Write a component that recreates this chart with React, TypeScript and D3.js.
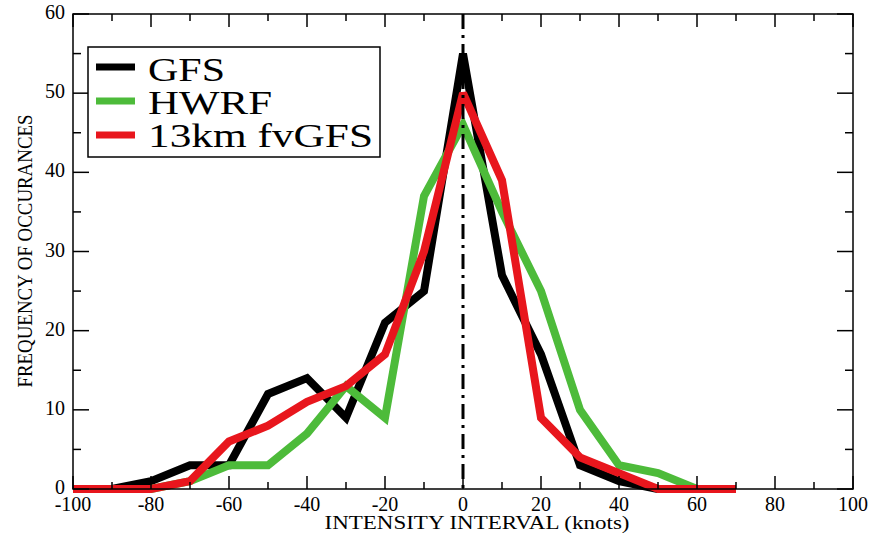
import React from "react";
import * as d3 from "d3";

const xValues = [-100, -90, -80, -70, -60, -50, -40, -30, -20, -10, 0, 10, 20, 30, 40, 50, 60, 70];
const gfs = [0, 0, 1, 3, 3, 12, 14, 9, 21, 25, 55, 27, 17, 3, 1, 0, null, null];
const hwrf = [0, 0, 0, 1, 3, 3, 7, 13, 9, 37, 46, 35, 25, 10, 3, 2, 0, null];
const fvgfs = [0, 0, 0, 1, 6, 8, 11, 13, 17, 30, 50, 39, 9, 4, 2, 0, 0, 0];

const seriesNames = ["GFS", "HWRF", "13km fvGFS"];
const seriesColors = ["#000000", "#4dbb3a", "#e8161d"];
const seriesData = [gfs, hwrf, fvgfs];

const xTicksMajor = [-100, -80, -60, -40, -20, 0, 20, 40, 60, 80, 100];
const xTicksMinor = [-90, -70, -50, -30, -10, 10, 30, 50, 70, 90];
const yTicksMajor = [0, 10, 20, 30, 40, 50, 60];
const yTicksMinor = [5, 15, 25, 35, 45, 55];

const W = 881, H = 533;
const L = 73, R = 853, T = 14, B = 489;
const FONT = "'Liberation Serif', 'Times New Roman', serif";

export default function App() {
  const x = d3.scaleLinear().domain([-100, 100]).range([L, R]);
  const y = d3.scaleLinear().domain([0, 60]).range([B, T]);
  const line = d3
    .line<number | null>()
    .defined((d) => d !== null)
    .x((_, i) => x(xValues[i]))
    .y((d) => y(d as number));

  return (
    <svg width={W} height={H} style={{ position: "absolute", left: 0, top: 0, background: "#fff" }}>
      <rect x={0} y={0} width={W} height={H} fill="#fff" />
      {seriesData.map((s, i) => (
        <path key={i} d={line(s) || ""} fill="none" stroke={seriesColors[i]} strokeWidth={8} strokeLinejoin="miter" strokeMiterlimit={3} />
      ))}
      <line x1={x(0)} x2={x(0)} y1={y(60)} y2={y(0)} stroke="#000" strokeWidth={3} strokeDasharray="15,6,3,6" />
      <rect x={L} y={T} width={R - L} height={B - T} fill="none" stroke="#000" strokeWidth={1.5} />
      {xTicksMajor.map((t) => (
        <g key={"xm" + t}>
          <line x1={x(t)} x2={x(t)} y1={B} y2={B - 13} stroke="#000" strokeWidth={1.5} />
          <line x1={x(t)} x2={x(t)} y1={T} y2={T + 13} stroke="#000" strokeWidth={1.5} />
          <text x={x(t)} y={511} textAnchor="middle" fontFamily={FONT} fontSize={20}>{t}</text>
        </g>
      ))}
      {xTicksMinor.map((t) => (
        <g key={"xn" + t}>
          <line x1={x(t)} x2={x(t)} y1={B} y2={B - 7} stroke="#000" strokeWidth={1.5} />
          <line x1={x(t)} x2={x(t)} y1={T} y2={T + 7} stroke="#000" strokeWidth={1.5} />
        </g>
      ))}
      {yTicksMajor.map((t) => (
        <g key={"ym" + t}>
          <line x1={L} x2={L + 16} y1={y(t)} y2={y(t)} stroke="#000" strokeWidth={1.5} />
          <line x1={R} x2={R - 16} y1={y(t)} y2={y(t)} stroke="#000" strokeWidth={1.5} />
          <text x={65} y={y(t) + 5} textAnchor="end" fontFamily={FONT} fontSize={20}>{t}</text>
        </g>
      ))}
      {yTicksMinor.map((t) => (
        <g key={"yn" + t}>
          <line x1={L} x2={L + 8} y1={y(t)} y2={y(t)} stroke="#000" strokeWidth={1.5} />
          <line x1={R} x2={R - 8} y1={y(t)} y2={y(t)} stroke="#000" strokeWidth={1.5} />
        </g>
      ))}
      <text x={477} y={529} textAnchor="middle" fontFamily={FONT} fontSize={18} textLength={305} lengthAdjust="spacingAndGlyphs">INTENSITY INTERVAL (knots)</text>
      <text transform={`translate(32,251) rotate(-90)`} textAnchor="middle" fontFamily={FONT} fontSize={20} textLength={273} lengthAdjust="spacingAndGlyphs">FREQUENCY OF OCCURANCES</text>
      <rect x={88} y={47} width={292} height={110} fill="#fff" stroke="#000" strokeWidth={1.5} />
      {seriesNames.map((n, i) => {
        const cy = [67, 101, 135][i];
        const by = [81, 114, 147][i];
        const tl = [77, 124, 225][i];
        return (
          <g key={n}>
            <line x1={96} x2={135} y1={cy} y2={cy} stroke={seriesColors[i]} strokeWidth={7} />
            <text x={148} y={by} fontFamily={FONT} fontSize={33} textLength={tl} lengthAdjust="spacingAndGlyphs">{n}</text>
          </g>
        );
      })}
    </svg>
  );
}
